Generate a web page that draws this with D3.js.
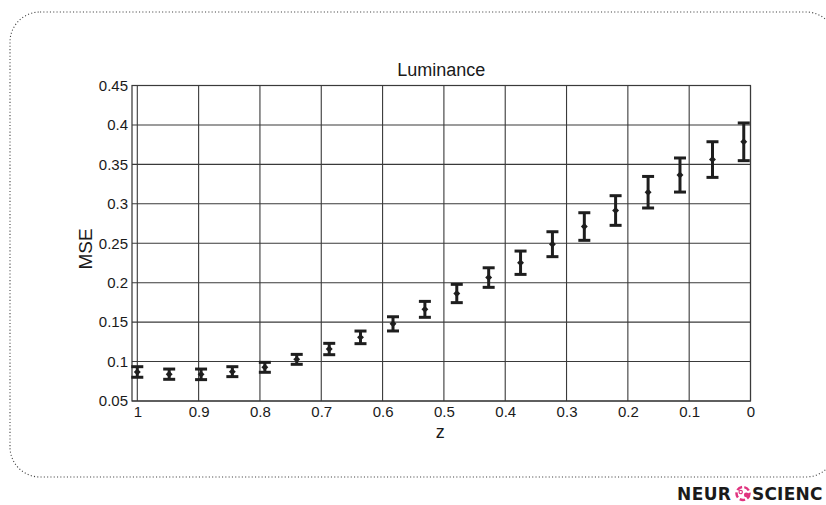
<!DOCTYPE html>
<html>
<head>
<meta charset="utf-8">
<script src="https://cdn.jsdelivr.net/npm/d3@7"></script>
<style>
  html, body { margin: 0; padding: 0; background: #fff; }
  svg { display: block; }
  text { font-family: "Liberation Sans", Arial, Helvetica, sans-serif; fill: #1a1a1a; }
</style>
</head>
<body>
<svg id="chart" width="826" height="505"></svg>
<script>
// values
const zValues = [1.0, 0.948, 0.896, 0.845, 0.792, 0.740, 0.687, 0.636, 0.583, 0.531,
                 0.479, 0.427, 0.375, 0.323, 0.271, 0.220, 0.167, 0.115, 0.062, 0.011];
const mseMean = [0.0868, 0.0840, 0.0838, 0.0872, 0.0927, 0.1028, 0.1159, 0.1307, 0.1478, 0.1662,
                 0.1863, 0.2065, 0.2253, 0.2488, 0.2712, 0.2915, 0.3147, 0.3365, 0.3561, 0.3786];
const mseErr  = [0.0067, 0.0065, 0.0067, 0.0063, 0.0063, 0.0063, 0.0072, 0.0080, 0.0090, 0.0101,
                 0.0116, 0.0124, 0.0148, 0.0158, 0.0175, 0.0188, 0.0200, 0.0216, 0.0226, 0.0239];
const xTicks = [1, 0.9, 0.8, 0.7, 0.6, 0.5, 0.4, 0.3, 0.2, 0.1, 0];
const yTicks = [0.05, 0.1, 0.15, 0.2, 0.25, 0.3, 0.35, 0.4, 0.45];

const svg = d3.select("#chart");

const plotLeft = 132, plotRight = 750.5, plotTop = 85.5, plotBottom = 401;

const x = d3.scaleLinear().domain([1, 0]).range([plotLeft + 5.3, plotRight]);
const y = d3.scaleLinear().domain([0.05, 0.45]).range([plotBottom, plotTop]);

// dotted rounded frame around the figure
svg.append("rect")
    .attr("x", 10).attr("y", 12)
    .attr("width", 826).attr("height", 465)
    .attr("rx", 30).attr("ry", 30)
    .attr("fill", "none")
    .attr("stroke", "#444")
    .attr("stroke-width", 1.1)
    .attr("stroke-dasharray", "1.1,2.2");

// plot box
svg.append("rect")
    .attr("x", plotLeft).attr("y", plotTop)
    .attr("width", plotRight - plotLeft).attr("height", plotBottom - plotTop)
    .attr("fill", "#fff")
    .attr("stroke", "#333")
    .attr("stroke-width", 1.2);

const grid = svg.append("g").attr("stroke", "#3a3a3a").attr("stroke-width", 1.1);

// vertical grid lines
grid.selectAll(".vgrid")
    .data(xTicks)
    .enter()
    .append("line")
    .attr("class", "vgrid")
    .attr("x1", d => x(d)).attr("x2", d => x(d))
    .attr("y1", plotTop).attr("y2", plotBottom);

// horizontal grid lines
grid.selectAll(".hgrid")
    .data(yTicks)
    .enter()
    .append("line")
    .attr("class", "hgrid")
    .attr("x1", plotLeft).attr("x2", plotRight)
    .attr("y1", d => y(d)).attr("y2", d => y(d));

// axes (labels only, the box draws the lines)
const yAxis = svg.append("g")
    .attr("transform", "translate(" + plotLeft + ",0)")
    .call(d3.axisLeft(y).tickValues(yTicks).tickSize(0).tickPadding(4).tickFormat(d3.format("")));
yAxis.select(".domain").remove();
yAxis.selectAll("text")
    .style("font-size", "15px")
    .style("font-family", "Liberation Sans, Arial, sans-serif")
    .attr("fill", "#1a1a1a");

const xAxis = svg.append("g")
    .attr("transform", "translate(0," + plotBottom + ")")
    .call(d3.axisBottom(x).tickValues(xTicks).tickSize(0).tickPadding(5).tickFormat(d3.format("")));
xAxis.select(".domain").remove();
xAxis.selectAll("text")
    .style("font-size", "15px")
    .style("font-family", "Liberation Sans, Arial, sans-serif")
    .attr("fill", "#1a1a1a");

// error bars
const points = zValues.map((z, i) => ({ z: z, m: mseMean[i], e: mseErr[i] }));
const bars = svg.append("g")
    .attr("stroke", "#1e1e1e")
    .attr("stroke-width", 3);

const eb = bars.selectAll(".eb")
    .data(points)
    .enter()
    .append("g")
    .attr("class", "eb");

eb.append("line")
    .attr("x1", d => x(d.z)).attr("x2", d => x(d.z))
    .attr("y1", d => y(d.m - d.e)).attr("y2", d => y(d.m + d.e));

eb.append("line")
    .attr("x1", d => x(d.z) - 6).attr("x2", d => x(d.z) + 6)
    .attr("y1", d => y(d.m + d.e)).attr("y2", d => y(d.m + d.e));

eb.append("line")
    .attr("x1", d => x(d.z) - 6).attr("x2", d => x(d.z) + 6)
    .attr("y1", d => y(d.m - d.e)).attr("y2", d => y(d.m - d.e));

// mean markers
svg.append("g")
    .selectAll("path")
    .data(points)
    .enter()
    .append("path")
    .attr("transform", d => "translate(" + x(d.z) + "," + y(d.m) + ") rotate(45)")
    .attr("d", d3.symbol().type(d3.symbolSquare).size(24))
    .attr("fill", "#1e1e1e");

// titles
svg.append("text")
    .attr("x", (plotLeft + plotRight) / 2).attr("y", 76)
    .attr("text-anchor", "middle")
    .style("font-size", "18px")
    .text("Luminance");

svg.append("text")
    .attr("x", (plotLeft + plotRight) / 2 - 1).attr("y", 438)
    .attr("text-anchor", "middle")
    .style("font-size", "18px")
    .text("z");

svg.append("text")
    .attr("transform", "translate(92," + 249 + ") rotate(-90)")
    .attr("text-anchor", "middle")
    .style("font-size", "19px")
    .text("MSE");

// logo at bottom right (cut at the page edge in the reference)
const logo = svg.append("g").attr("transform", "translate(677,500)");
logo.append("text")
    .attr("x", 0).attr("y", 0)
    .style("font-family", "DejaVu Sans, sans-serif")
    .style("font-weight", "bold")
    .style("font-size", "17px")
    .style("letter-spacing", "0.4px")
    .attr("fill", "#2b2b2b")
    .text("NEUR");
const ic = logo.append("g").attr("transform", "translate(66,-6.5)");
ic.append("circle").attr("r", 6.5).attr("fill", "none")
    .attr("stroke", "#e0337f").attr("stroke-width", 2.5).attr("stroke-dasharray", "5.5,2.3");
ic.append("circle").attr("cx", 3.3).attr("cy", 1.4).attr("r", 2.4).attr("fill", "#e0337f");
ic.append("circle").attr("cx", -2.3).attr("cy", -1.4).attr("r", 1.7).attr("fill", "none")
    .attr("stroke", "#e0337f").attr("stroke-width", 1.1);
logo.append("text")
    .attr("x", 75).attr("y", 0)
    .style("font-family", "DejaVu Sans, sans-serif")
    .style("font-weight", "bold")
    .style("font-size", "17px")
    .style("letter-spacing", "0.2px")
    .attr("fill", "#2b2b2b")
    .text("SCIENC");
</script>
</body>
</html>
